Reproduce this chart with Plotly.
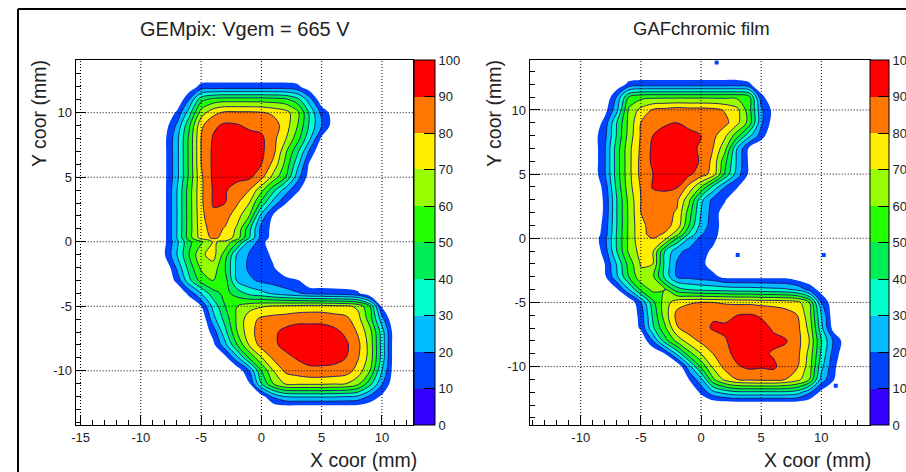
import plotly.graph_objects as go

W, H = 906, 472

x_cells = list(range(-9, 13))
y_cells = [13, 12, 11, 10, 9, 8, 7, 6, 5, 4, 3, 2, 1, 0.3, 0, -1, -2, -3, -4, -5, -6, -7, -8, -9, -10, -11, -12, -13]
levels = [0, 10, 20, 30, 40, 50, 60, 70, 80, 90, 100]
band_colors = ["#3300ff", "#0044ff", "#00bbff", "#00ffcc", "#00ee55",
               "#22ff00", "#99ff00", "#ffee00", "#ff7700", "#ff0000"]

gempix_rows = [
    [0],
    [0,0,0,3,14,15,15,15,15,15,15,15,13,3,0],
    [0,0,0,20,47,54,56,56,56,56,55,53,44,25,2,0],
    [0,0,12,35,65,77,82,82,82,81,78,74,63,38,17,5,0],
    [0,5,22,48,78,88,92,91,88,87,85,75,60,38,20,5,0],
    [0,8,27,52,80,91,96,95,94,92,83,71,54,32,8,0],
    [0,8,27,52,80,92,97,97,97,92,83,62,42,18,0],
    [0,8,27,52,80,92,97,97,96,90,77,57,33,8,0],
    [0,8,27,52,78,92,94,93,92,83,66,50,24,5,0],
    [0,8,30,55,78,91,91,85,80,63,43,25,12,0],
    [0,8,30,55,78,91,90,81,70,47,25,11,0],
    [0,8,30,55,77,88,84,74,60,26,8,0],
    [0,8,30,55,76,84,79,68,43,16,7,0],
    [0,8,30,55,74,82,77,65,40,16,6,0],
    [0,8,28,48,58,71,68,52,28,15,0],
    [0,10,30,50,68,74,55,28,19,16,7,0],
    [0,0,22,44,62,66,50,27,18,15,11,0],
    [0,0,13,37,54,60,54,28,22,18,16,14,11,0],
    [0,0,0,13,30,46,53,46,37,33,28,24,21,18,17,16,15,12,0],
    [0,0,0,0,10,33,50,60,66,69,71,72,73,74,74,73,72,68,50,8,0,0],
    [0,0,0,0,0,26,44,62,76,82,84,85,87,87,87,85,83,74,55,24,0,0],
    [0,0,0,0,0,14,37,60,77,84,88,93,95,95,95,93,88,79,64,35,5,0],
    [0,0,0,0,0,7,27,50,71,84,88,93,96,96,96,95,92,83,66,36,5,0],
    [0,0,0,0,0,0,6,27,51,69,82,87,91,93,93,93,90,81,66,36,5,0],
    [0,0,0,0,0,0,0,2,20,50,70,82,85,88,88,87,85,76,60,30,5,0],
    [0,0,0,0,0,0,0,0,9,40,60,71,72,72,72,71,70,63,44,21,3,0],
    [0,0,0,0,0,0,0,0,0,5,22,30,31,31,31,31,30,28,18,8,0,0],
    [0],
]

film_rows = [
    [0],
    [0,0,2,13,15,15,15,15,15,15,15,15,15,12,0],
    [0,0,21,51,57,58,58,58,58,58,58,58,58,54,14,0],
    [0,6,27,62,73,81,83,85,84,84,83,79,73,54,22,7,0],
    [0,14,40,63,80,87,89,90,88,87,86,83,73,56,22,5,0],
    [5,17,41,64,81,90,93,93,92,90,83,72,54,33,15,0],
    [3,19,45,67,82,92,95,95,94,88,80,63,30,8,0],
    [3,19,45,67,83,92,95,95,94,89,77,53,28,8,0],
    [3,19,45,67,83,90,94,94,92,85,76,48,25,8,0],
    [0,14,43,66,81,91,93,91,77,60,37,20,11,0],
    [0,12,40,63,80,85,84,82,63,33,17,11,0],
    [0,12,40,62,80,84,83,79,55,30,15,5,0],
    [0,14,40,62,78,83,83,77,50,26,15,5,0],
    [2,15,41,62,78,82,79,63,38,21,14,4,0],
    [3,17,41,62,78,80,74,50,30,17,13,3,0],
    [0,15,40,62,74,71,40,23,17,14,8,0],
    [0,10,31,54,71,70,37,19,15,13,5,0],
    [0,8,28,50,67,62,37,19,17,15,13,7,7,7,7,7,7,3,0],
    [0,0,8,29,52,63,60,45,40,38,37,36,35,35,34,33,32,28,17,5,0,0],
    [0,0,0,0,20,47,65,76,79,80,80,79,78,78,77,77,76,74,60,20,3,0],
    [0,0,0,0,14,42,65,83,86,88,89,87,90,91,89,86,84,80,64,30,3,0],
    [0,0,0,0,12,38,58,79,85,87,91,92,95,95,93,89,86,83,67,33,6,0],
    [0,0,0,0,0,20,45,63,75,82,85,89,95,96,94,92,91,84,70,40,19,5],
    [0,0,0,0,0,0,10,32,56,70,80,87,93,95,92,89,87,83,67,38,16,3],
    [0,0,0,0,0,0,0,0,26,52,72,83,89,92,91,92,85,81,65,33,13,0],
    [0,0,0,0,0,0,0,0,10,27,58,73,80,82,83,83,80,74,60,26,11,0],
    [0,0,0,0,0,0,0,0,0,12,27,34,38,38,38,38,38,35,22,7,0,0],
    [0],
]

stray_x = [1.3, 3.05, 10.2, 11.2]
stray_y = [13.7, -1.3, -1.3, -11.5]

titles = ["GEMpix: Vgem = 665 V", "GAFchromic film"]
x_title = "X coor (mm)"
y_title = "Y coor (mm)"
left_xticks = [-15, -10, -5, 0, 5, 10]
right_xticks = [-10, -5, 0, 5, 10]
yticks = [-10, -5, 0, 5, 10]

def pad(rows):
    return [r + [0] * (len(x_cells) - len(r)) for r in rows]

def stepped(under):
    scale = []
    for i, c in enumerate(band_colors):
        col = under if (under and i == 0) else c
        scale += [[levels[i] / 100, col], [levels[i + 1] / 100, col]]
    return scale

FONT = "Liberation Sans"
INK = "#222222"
fig = go.Figure()

panels = [
    dict(rows=gempix_rows, n="", px=(75.7, 413.3), rng=(-15.4, 12.6), yr=(-14.2, 14.06), xt=left_xticks,
         bar=413.5, barw=21, tx=245, ts=20, xr=419, yx=39),
    dict(rows=film_rows, n="2", px=(529.7, 870.3), rng=(-14.24, 14.07), yr=(-14.55, 13.87), xt=right_xticks,
         bar=870.3, barw=19, tx=701, ts=18.5, xr=873, yx=494),
]
top, bottom = 60.3, 425.0

shapes, annotations = [], []
for i, p in enumerate(panels):
    z = pad(p["rows"])
    xa, ya = "x" + p["n"], "y" + p["n"]
    fig.add_trace(go.Contour(x=x_cells, y=y_cells, z=z, xaxis=xa, yaxis=ya, zmin=0, zmax=100,
                             autocontour=False, contours=dict(start=0, end=100, size=10, coloring="fill"),
                             colorscale=stepped("#ffffff"), line=dict(width=0), showscale=False,
                             hoverinfo="skip"))
    fig.add_trace(go.Contour(x=x_cells, y=y_cells, z=z, xaxis=xa, yaxis=ya, zmin=0, zmax=100,
                             autocontour=False, contours=dict(start=20, end=90, size=10, coloring="none"),
                             line=dict(width=0.9, color="#14146e"), showscale=False, hoverinfo="skip"))
    fig.add_trace(go.Heatmap(x=[-100, -99], y=[-100, -99], z=[[0, 100], [0, 100]], xaxis=xa, yaxis=ya,
                             zmin=0, zmax=100, colorscale=stepped(None), showscale=True, hoverinfo="skip",
                             colorbar=dict(x=p["bar"] / W, xanchor="left", xpad=0, ypad=0, y=1 - bottom / H,
                                           yanchor="bottom", len=bottom - top, lenmode="pixels",
                                           thickness=p["barw"], thicknessmode="pixels", outlinecolor="black",
                                           outlinewidth=1, ticks="inside", ticklen=11, tickcolor="black",
                                           tickmode="array", tickvals=levels, ticktext=[str(v) for v in levels],
                                           tickfont=dict(family=FONT, size=13, color=INK), borderwidth=0)))
    axis_common = dict(showline=True, linecolor="black", linewidth=1.2, mirror=True, ticks="inside",
                       tickcolor="black", showgrid=False, zeroline=False, fixedrange=True,
                       tickfont=dict(family=FONT, size=13, color=INK))
    fig.update_layout({
        "xaxis" + p["n"]: dict(axis_common, domain=[p["px"][0] / W, p["px"][1] / W], range=list(p["rng"]),
                               tickmode="array", tickvals=p["xt"], ticktext=[str(v) for v in p["xt"]],
                               ticklen=10, anchor=ya,
                               minor=dict(dtick=1, ticks="inside", ticklen=5, tickcolor="black")),
        "yaxis" + p["n"]: dict(axis_common, domain=[1 - bottom / H, 1 - top / H], range=list(p["yr"]),
                               tickmode="array", tickvals=yticks, ticktext=[str(v) for v in yticks],
                               ticklen=10, anchor=xa,
                               minor=dict(dtick=1, ticks="inside", ticklen=5, tickcolor="black")),
    })
    for t in p["xt"]:
        shapes.append(dict(type="line", xref=xa, yref=ya + " domain", x0=t, x1=t, y0=0, y1=1,
                           line=dict(color="black", width=1, dash="1px,2px"), layer="above"))
    for t in yticks:
        shapes.append(dict(type="line", xref=xa + " domain", yref=ya, x0=0, x1=1, y0=t, y1=t,
                           line=dict(color="black", width=1, dash="1px,2px"), layer="above"))
    annotations.append(dict(text=titles[i], x=p["tx"] / W, y=1 - 29 / H, xref="paper", yref="paper",
                            showarrow=False, xanchor="center", yanchor="middle",
                            font=dict(family=FONT, size=p["ts"], color=INK)))
    annotations.append(dict(text=x_title, x=p["xr"] / W, y=1 - 460 / H, xref="paper", yref="paper",
                            showarrow=False, xanchor="right", yanchor="middle",
                            font=dict(family=FONT, size=19.5, color=INK)))
    annotations.append(dict(text=y_title, x=p["yx"] / W, y=1 - 114 / H, xref="paper", yref="paper",
                            showarrow=False, xanchor="center", yanchor="middle", textangle=-90,
                            font=dict(family=FONT, size=19.5, color=INK)))

fig.add_trace(go.Scatter(x=stray_x, y=stray_y, mode="markers", xaxis="x2", yaxis="y2", hoverinfo="skip",
                         marker=dict(symbol="square", size=4, color=band_colors[1]), showlegend=False))

shapes.append(dict(type="line", xref="paper", yref="paper", x0=18 / W, x1=1, y0=1 - 9 / H, y1=1 - 9 / H,
                   line=dict(color="black", width=2)))
shapes.append(dict(type="line", xref="paper", yref="paper", x0=18 / W, x1=18 / W, y0=0, y1=1 - 9 / H,
                   line=dict(color="black", width=2)))

fig.update_layout(width=W, height=H, autosize=False, showlegend=False,
                  margin=dict(l=0, r=0, t=0, b=0, pad=0, autoexpand=False),
                  paper_bgcolor="white", plot_bgcolor="white", shapes=shapes, annotations=annotations,
                  font=dict(family=FONT))
fig.write_html("out.html", post_script="document.body.style.margin='0';document.body.style.overflow='hidden';",
               config={"displayModeBar": False})
